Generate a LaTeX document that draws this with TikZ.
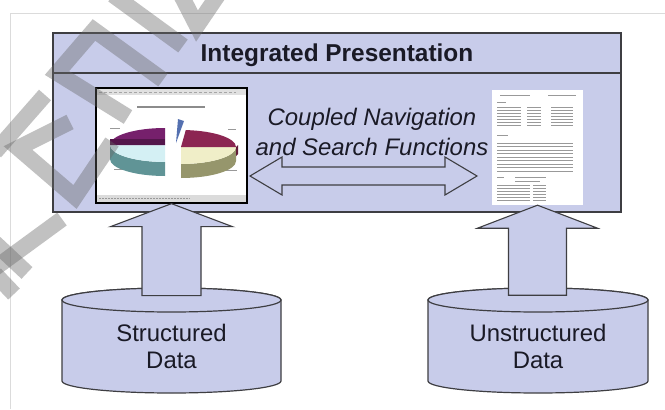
\documentclass[tikz,border=0pt]{standalone}
\usepackage{fontspec}
\setmainfont{Liberation Sans}
\usetikzlibrary{calc}

\definecolor{lav}{RGB}{200,204,234}
\definecolor{edgegray}{RGB}{62,62,66}
\definecolor{inkc}{RGB}{26,26,38}
\definecolor{piepurple}{RGB}{118,32,108}
\definecolor{piemaroon}{RGB}{140,38,82}
\definecolor{piecyan}{RGB}{212,240,244}
\definecolor{pieteal}{RGB}{96,148,150}
\definecolor{piecream}{RGB}{240,238,200}
\definecolor{pieolive}{RGB}{150,150,108}
\definecolor{pieblue}{RGB}{84,112,176}

\tikzset{
  panel/.style={draw=edgegray,fill=lav,line width=1.3bp},
  blockarrow/.style={draw=edgegray,fill=lav,line width=1.1bp,line join=miter},
  dbshape/.style={draw=edgegray,fill=lav,line width=1.2bp},
  titletext/.style={text=inkc,font=\bfseries\fontsize{24.5}{28}\selectfont},
  navtext/.style={text=inkc,align=center,font=\itshape\fontsize{24}{30}\selectfont},
  dbtext/.style={text=inkc,align=center,font=\fontsize{24}{27}\selectfont},
  docline/.style={draw=black!40,line width=0.8bp},
  wmark/.style={draw=black!60,opacity=0.4,line width=16bp}
}

% database drum: centre x, radius
\newcommand{\dbcyl}[2]{%
  \path[dbshape] (#1-#2,109) -- (#1-#2,28)
    arc[start angle=180,end angle=360,x radius=#2,y radius=12]
    -- (#1+#2,109)
    arc[start angle=0,end angle=180,x radius=#2,y radius=12] -- cycle;
  \draw[dbshape] (#1,109) ellipse[x radius=#2,y radius=12];}

\begin{document}
\begin{tikzpicture}[x=1bp,y=1bp]
\useasboundingbox (0,0) rectangle (665,409);
\fill[white] (0,0) rectangle (665,409);
\draw[black!14,line width=0.8bp] (10,0) -- (10,396) -- (665,396);

% presentation layer
\draw[panel] (53,197) rectangle (621,376);
\draw[panel] (53,336) -- (621,336);
\node[titletext] (title) at (337,354) {Integrated Presentation};

% chart snapshot
\node[draw=black,fill=white,line width=1.3bp,minimum width=151bp,minimum height=115bp,inner sep=0] (chart) at (171.5,263.5) {};
\fill[black!12] (97,314) rectangle (246,320);
\draw[black!35,dash pattern=on 3bp off 2bp] (99,317) -- (236,317);
\draw[black!45,line width=1.8bp] (137,302) -- (205,302);
\fill[black!14] (97,207) rectangle (246,214);
\draw[black!40,dash pattern=on 2bp off 1bp] (99,210.5) -- (190,210.5);
\draw[black!40,line width=1bp] (110,281) -- (120,281);
\draw[black!40,line width=1bp] (228,280) -- (236,280);
\draw[black!40,line width=1bp] (114,240) -- (126,240);
\draw[black!40,line width=1bp] (225,239) -- (237,239);
% left half of the pie
\fill[pieteal] (110,264) arc[start angle=180,end angle=270,x radius=55,y radius=17] -- ++(0,-14) arc[start angle=270,end angle=180,x radius=55,y radius=17] -- cycle;
\fill[piecyan] (165,264) -- (110,264) arc[start angle=180,end angle=270,x radius=55,y radius=17] -- cycle;
\fill[piepurple] (165,264) -- (165,281) arc[start angle=90,end angle=180,x radius=55,y radius=17] -- cycle;
\fill[piepurple!70!black] (110,264) -- (165,264) -- (165,270) -- (110,270) -- cycle;
% right half of the pie
\fill[pieolive] (181,245) arc[start angle=270,end angle=360,x radius=55,y radius=17] -- ++(0,-14) arc[start angle=360,end angle=270,x radius=55,y radius=17] -- cycle;
\fill[piecream] (181,262) -- (181,245) arc[start angle=270,end angle=360,x radius=55,y radius=17] -- cycle;
\fill[piemaroon] (181,262) -- (236,262) arc[start angle=0,end angle=85,x radius=55,y radius=17] -- cycle;
\fill[piemaroon!70!black] (236,262) -- (236,253) -- (238,255) -- (238,264) -- cycle;
\fill[pieblue] (176,266) -- (178,290) -- (184,288) -- cycle;

% text document snapshot
\node[fill=white,minimum width=91bp,minimum height=115bp,inner sep=0] (doc) at (537.5,261.5) {};
\draw[docline] (500,314) -- (530,314);
\draw[docline] (548,314) -- (576,314);
\draw[docline] (497,307) -- (506,307);
\foreach \yy in {302,299,...,284} {
  \draw[docline] (497,\yy) -- (521,\yy);
  \draw[docline] (527,\yy) -- (541,\yy);
  \draw[docline] (551,\yy) -- (573,\yy);
}
\draw[docline] (497,274) -- (508,274);
\foreach \yy in {266,262.5,...,238} \draw[docline] (497,\yy) -- (573,\yy);
\draw[docline] (497,232) -- (504,232);
\draw[docline] (515,232) -- (546,232);
\draw[docline] (515,228) -- (540,228);
\foreach \yy in {224,221,...,209} {
  \draw[docline] (497,\yy) -- (530,\yy);
  \draw[docline] (533,\yy) -- (546,\yy);
}

\node[navtext] (nav) at (372,277) {Coupled Navigation\\and Search Functions};

% two-way link between the views
\coordinate (nl) at (250,233);
\coordinate (nr) at (477,233);
\draw[blockarrow] (nl) -- ++(32,19) -- ++(0,-10) -- ($(nr)+(-32,9)$) -- ++(0,10) -- (nr)
  -- ++(-32,-19) -- ++(0,10) -- ($(nl)+(32,-9)$) -- ++(0,-10) -- cycle;

% data sources
\dbcyl{171.5}{109.5}
\dbcyl{538}{110}
\node[dbtext] (sdb) at (171.5,62.5) {Structured\\Data};
\node[dbtext] (udb) at (538,62.5) {Unstructured\\Data};

% feeds up into the views
\draw[blockarrow] (chart.south) -- ++(-61,-23) -- ++(31.5,0) -- ++(0,-69) -- ++(59,0) -- ++(0,69) -- ++(31.5,0) -- cycle;
\draw[blockarrow] (doc.south) -- ++(-60,-23) -- ++(31,0) -- ++(0,-67) -- ++(58,0) -- ++(0,67) -- ++(31,0) -- cycle;

% watermark strokes
\begin{scope}
\clip (0,0) rectangle (665,409);
\draw[wmark] (113,414) -- (183,363);
\draw[wmark] (181,414) -- (197,383) -- (218,414);
\draw[wmark] (163,329) -- (94,379) -- (57,336) -- (128,292);
\draw[wmark] (45,314) -- (-5,257);
\draw[wmark] (70,287) -- (18,261) -- (75,212) -- (112,267);
\draw[wmark] (62,190) -- (-5,141);
\draw[wmark] (27,136) -- (-5,166);
\draw[wmark] (-5,135) -- (14,115);
\end{scope}
\end{tikzpicture}
\end{document}
